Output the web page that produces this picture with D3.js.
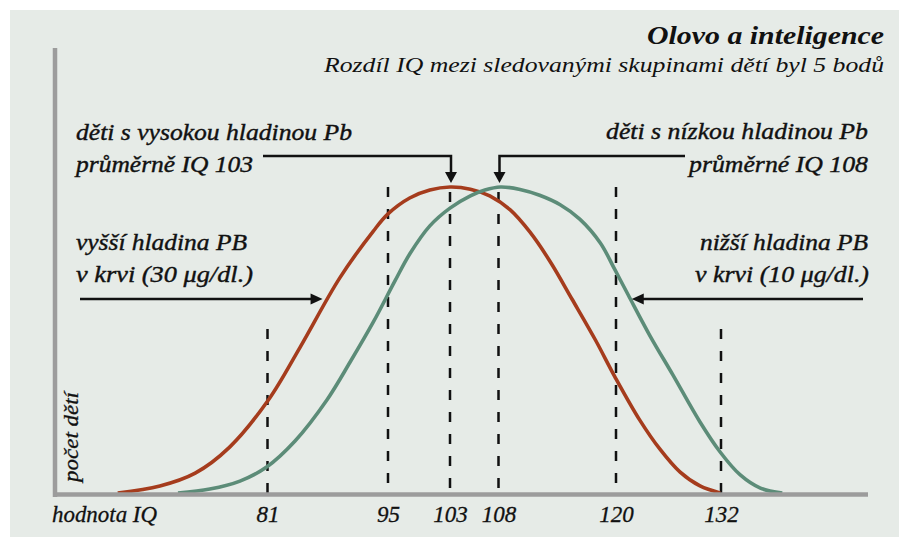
<!DOCTYPE html>
<html>
<head>
<meta charset="utf-8">
<script src="https://cdn.jsdelivr.net/npm/d3@7"></script>
<style>
  body { margin: 0; background: #fff; }
</style>
</head>
<body>
<svg id="chart"></svg>
<script>
const FONT = "'Liberation Serif', Tinos, 'Times New Roman', serif";

// IQ ticks under the dashed guides
const ticks = [81, 95, 103, 108, 120, 132];
// how high each dashed guide reaches (relative count, 0-100)
const guideTops = [53.6, 100, 98.4, 98.4, 100, 53.6];

// children with higher blood lead (mean IQ 103)
const redIQ = [63.6, 68.5, 72.6, 76.6, 81.1, 84.8, 89.4, 93.3, 95, 97.8, 100.4, 103,
               105.1, 107.1, 109.2, 111.2, 113.3, 115.5, 117.9, 119.9, 122.7, 125.0, 127.3, 129.6, 131.9];
const redCount = [0, 2.3, 6.5, 15.0, 30.4, 47.7, 70.3, 85.6, 91.2, 96.4, 99.0, 100,
                  99.3, 97.1, 92.5, 85.3, 75.5, 63.4, 50.0, 37.9, 23.9, 14.4, 6.9, 2.3, 0];

// children with lower blood lead (mean IQ 108)
const greenIQ = [70.6, 74.3, 77.8, 80.9, 84.2, 87.9, 90.6, 93.3, 95.9, 97.8, 100.4, 103,
                 105.1, 106.6, 108.2, 110.2, 112.2, 114.3, 116.3, 118.4, 119.9, 121.4,
                 123.9, 126.5, 129.6, 131.9, 134.2, 136.5, 139.0];
const greenCount = [0, 1.3, 3.9, 8.5, 17.0, 30.4, 42.8, 55.9, 69.3, 78.1, 87.3, 93.1,
                    97.1, 99.0, 100, 99.2, 97.3, 94.2, 89.5, 81.7, 72.9, 64.7,
                    51.3, 38.6, 23.2, 13.4, 5.9, 1.6, 0];

const svg = d3.select("#chart")
              .attr("width", 899)
              .attr("height", 537);

// background panel
svg.append("rect")
   .attr("x", 10).attr("y", 10)
   .attr("width", 889).attr("height", 527)
   .attr("fill", "#e6ebe7");

// the original spaces the ticks unevenly, so a piecewise scale
const x = d3.scaleLinear()
            .domain(ticks)
            .range([267.5, 388, 450, 498.5, 616, 721]);
const y = d3.scaleLinear().domain([0, 100]).range([493, 187]);

// dashed guides
svg.selectAll(".guide")
   .data(ticks)
   .enter().append("line")
   .attr("class", "guide")
   .attr("x1", d => x(d)).attr("x2", d => x(d))
   .attr("y1", (d, i) => y(guideTops[i]))
   .attr("y2", y(0))
   .attr("stroke", "#111")
   .attr("stroke-width", 2.5)
   .attr("stroke-dasharray", "10,12");

// curves
const line = d3.line()
               .x(d => x(d[0]))
               .y(d => y(d[1]))
               .curve(d3.curveCatmullRom.alpha(0.5));

svg.append("path")
   .datum(d3.zip(redIQ, redCount))
   .attr("d", line)
   .attr("fill", "none")
   .attr("stroke", "#a53c1d")
   .attr("stroke-width", 3.6);

svg.append("path")
   .datum(d3.zip(greenIQ, greenCount))
   .attr("d", line)
   .attr("fill", "none")
   .attr("stroke", "#5c8c78")
   .attr("stroke-width", 3.6);

// axes
svg.append("line")
   .attr("x1", 55).attr("x2", 55)
   .attr("y1", 48).attr("y2", 497)
   .attr("stroke", "#9c9c9c").attr("stroke-width", 4.5);
svg.append("line")
   .attr("x1", 53).attr("x2", 868)
   .attr("y1", 494.5).attr("y2", 494.5)
   .attr("stroke", "#9c9c9c").attr("stroke-width", 4.5);

const xAxis = svg.append("g")
   .attr("transform", "translate(0,503)")
   .call(d3.axisBottom(x).tickValues(ticks).tickSize(0).tickFormat(d3.format("d")));
xAxis.select(".domain").remove();
xAxis.attr("font-family", FONT).attr("font-size", 23);
xAxis.selectAll("text")
     .attr("dy", 0).attr("y", 19)
     .attr("font-style", "italic")
     .attr("fill", "#111")
     .attr("stroke", "#111").attr("stroke-width", 0.3);

// texts
function label(txt, xPos, yPos, size, anchor, len, weight, thick) {
    svg.append("text")
       .attr("x", xPos).attr("y", yPos)
       .attr("font-family", FONT)
       .attr("font-style", "italic")
       .attr("font-size", size)
       .attr("text-anchor", anchor)
       .attr("font-weight", weight || "normal")
       .attr("textLength", len)
       .attr("lengthAdjust", "spacingAndGlyphs")
       .attr("fill", "#111")
       .attr("stroke", thick ? "#111" : "none")
       .attr("stroke-width", thick || 0)
       .text(txt);
}

label("Olovo a inteligence", 884, 44, 26, "end", 237, "bold");
label("Rozdíl IQ mezi sledovanými skupinami dětí byl 5 bodů", 884, 72, 21, "end", 560);

label("děti s vysokou hladinou Pb", 76, 140, 23, "start", 276, null, 0.4);
label("průměrně IQ 103", 76, 172, 23, "start", 177, null, 0.4);
label("vyšší hladina PB", 76, 250, 23, "start", 171, null, 0.4);
label("v krvi (30 μg/dl.)", 76, 282, 23, "start", 177, null, 0.4);

label("děti s nízkou hladinou Pb", 868, 139, 23, "end", 262, null, 0.4);
label("průměrné IQ 108", 868, 172, 23, "end", 179, null, 0.4);
label("nižší hladina PB", 868, 250, 23, "end", 168, null, 0.4);
label("v krvi (10 μg/dl.)", 869, 282, 23, "end", 174, null, 0.4);

label("hodnota IQ", 52, 522, 23, "start", 105, null, 0.3);

svg.append("text")
   .attr("transform", "translate(78,482) rotate(-90)")
   .attr("font-family", FONT)
   .attr("font-style", "italic")
   .attr("font-size", 20)
   .attr("textLength", 90)
   .attr("lengthAdjust", "spacingAndGlyphs")
   .attr("fill", "#111")
   .attr("stroke", "#111").attr("stroke-width", 0.3)
   .text("počet dětí");

// annotation arrows
function arrowHead(tx, ty, dir) {
    let pts;
    if (dir === "down") pts = [[tx - 6, ty - 11], [tx + 6, ty - 11], [tx, ty]];
    else if (dir === "right") pts = [[tx - 12, ty - 5.5], [tx - 12, ty + 5.5], [tx, ty]];
    else pts = [[tx + 12, ty - 5.5], [tx + 12, ty + 5.5], [tx, ty]];
    svg.append("path")
       .attr("d", "M" + pts.join("L") + "Z")
       .attr("fill", "#111");
}

function connector(points) {
    svg.append("path")
       .attr("d", d3.line()(points))
       .attr("fill", "none")
       .attr("stroke", "#111")
       .attr("stroke-width", 2.5);
}

// mean arrows
const hiTip = [x(103) + 1, y(100) - 4];
connector([[263, 156], [hiTip[0], 156], [hiTip[0], hiTip[1] - 8]]);
arrowHead(hiTip[0], hiTip[1], "down");

const loTip = [x(108) + 1, y(100) - 4];
connector([[685, 156], [loTip[0], 156], [loTip[0], loTip[1] - 8]]);
arrowHead(loTip[0], loTip[1], "down");

// side arrows to the curves
const redTip = [x(87.4), y(63.4)];
connector([[80, redTip[1]], [redTip[0] - 8, redTip[1]]]);
arrowHead(redTip[0], redTip[1], "right");

const greenTip = [x(121.8), y(63.4)];
connector([[863, greenTip[1]], [greenTip[0] + 8, greenTip[1]]]);
arrowHead(greenTip[0], greenTip[1], "left");
</script>
</body>
</html>
